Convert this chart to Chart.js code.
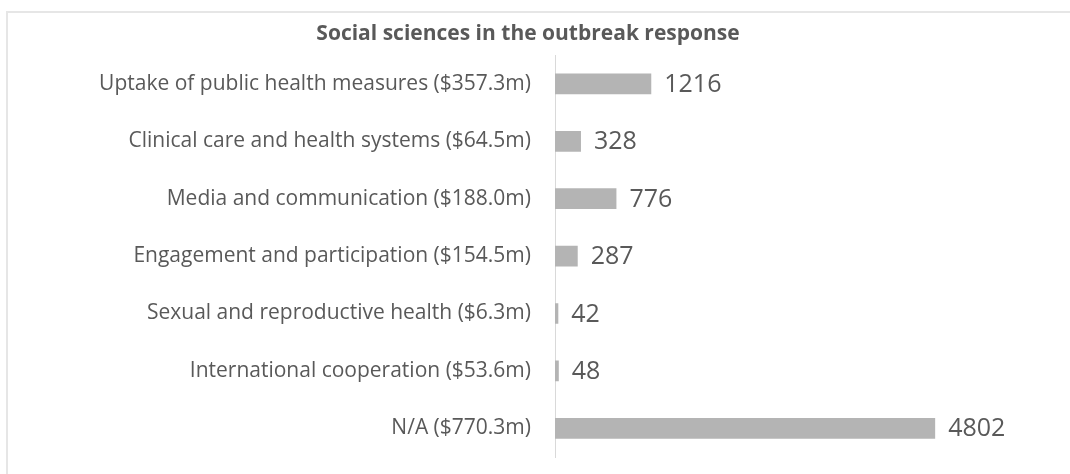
<!DOCTYPE html>
<html>
<head>
<meta charset="utf-8">
<script src="https://cdn.jsdelivr.net/npm/chart.js@4"></script>
<style>
  html, body { margin: 0; padding: 0; background: #fff; }
  #wrap { width: 1070px; height: 474px; position: relative; }
</style>
</head>
<body>
<div id="wrap"><canvas id="chart" width="1070" height="474"></canvas></div>
<script>
const categories = [
    'Uptake of public health measures ($357.3m)',
    'Clinical care and health systems ($64.5m)',
    'Media and communication ($188.0m)',
    'Engagement and participation ($154.5m)',
    'Sexual and reproductive health ($6.3m)',
    'International cooperation ($53.6m)',
    'N/A ($770.3m)'
];
const projects = [1216, 328, 776, 287, 42, 48, 4802];
const axisMax = 6000;

const textGrey = '#595959';
const labelFont = '"Open Sans", sans-serif';

// light frame around the chart, like the exported image
const frame = {
    id: 'frame',
    beforeDraw(chart) {
        const c = chart.ctx;
        c.save();
        c.strokeStyle = '#e6e6e6';
        c.lineWidth = 2;
        c.strokeRect(7, 12, 1080, 480);
        c.restore();
    }
};

// value labels right of each bar
const valueLabels = {
    id: 'valueLabels',
    afterDatasetsDraw(chart) {
        const c = chart.ctx;
        const meta = chart.getDatasetMeta(0);
        c.save();
        c.fillStyle = textGrey;
        c.font = '25px ' + labelFont;
        c.textBaseline = 'middle';
        c.textAlign = 'left';
        meta.data.forEach((bar, i) => {
            c.fillText(String(projects[i]), bar.x + 13, bar.y + 1);
        });
        c.restore();
    }
};

new Chart(document.getElementById('chart').getContext('2d'), {
    type: 'bar',
    data: {
        labels: categories,
        datasets: [{
            data: projects,
            backgroundColor: '#b4b4b4',
            categoryPercentage: 1,
            barPercentage: 0.36
        }]
    },
    options: {
        indexAxis: 'y',
        responsive: false,
        animation: false,
        layout: { padding: { left: 26, right: 40, top: 0, bottom: 17 } },
        plugins: {
            legend: { display: false },
            tooltip: { enabled: false },
            title: {
                display: true,
                text: 'Social sciences in the outbreak response',
                color: textGrey,
                font: { family: labelFont, size: 21, weight: 'bold' },
                padding: { top: 21, bottom: 9 }
            }
        },
        scales: {
            x: {
                display: false,
                min: 0,
                max: axisMax
            },
            y: {
                grid: { display: false, drawTicks: false },
                border: { display: true, color: '#d9d9d9', width: 1 },
                ticks: {
                    color: textGrey,
                    font: { family: labelFont, size: 21 },
                    padding: 24
                },
                afterFit(scale) {
                    scale.width = 529;
                    scale.paddingTop = 0;
                    scale.paddingBottom = 0;
                }
            }
        }
    },
    plugins: [frame, valueLabels]
});
</script>
</body>
</html>
